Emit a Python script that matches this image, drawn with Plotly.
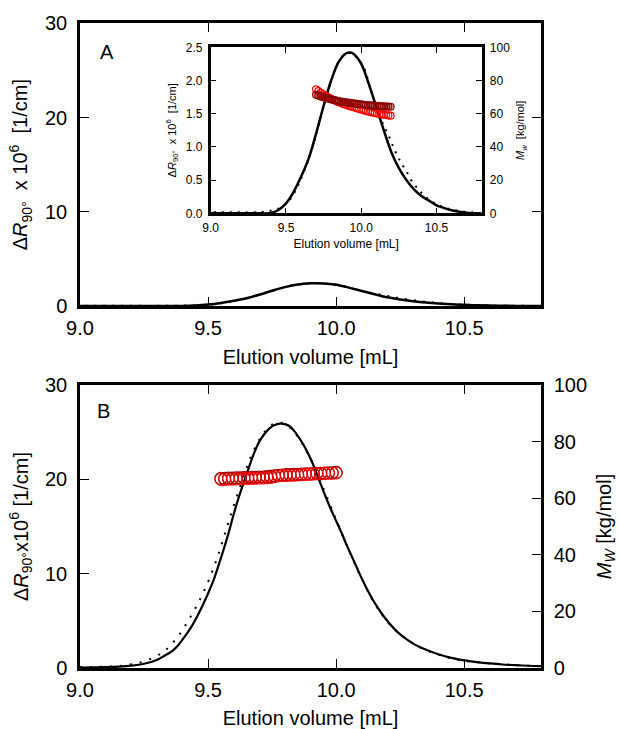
import plotly.graph_objects as go

FONT = "Liberation Sans, Arial, sans-serif"

# ---------------- Panel A (and inset) : light scattering trace ----------------
vol_fit_A = [9.00, 9.30, 9.40, 9.45, 9.50, 9.55, 9.60, 9.65, 9.70, 9.75, 9.80, 9.85,
             9.90, 9.925, 9.95, 10.00, 10.05, 10.10, 10.15, 10.20, 10.25, 10.30, 10.35,
             10.40, 10.45, 10.50, 10.55, 10.60, 10.65, 10.70, 10.75, 10.80]
dR_fit_A = [0.0, 0.0, 0.005, 0.05, 0.15, 0.32, 0.55, 0.82, 1.20, 1.62, 2.00, 2.28,
            2.41, 2.42, 2.40, 2.25, 1.95, 1.60, 1.25, 0.92, 0.68, 0.50, 0.36,
            0.26, 0.19, 0.12, 0.08, 0.045, 0.025, 0.01, 0.0, 0.0]

vol_data_A = [9.02, 9.06, 9.10, 9.14, 9.18, 9.22, 9.26, 9.30, 9.34, 9.38, 9.42, 9.46,
              9.50, 9.54, 9.58, 9.62, 9.66, 9.70, 9.74, 9.78, 9.82, 9.86, 9.90, 9.94,
              9.98, 10.02, 10.06, 10.10, 10.14, 10.18, 10.22, 10.26, 10.30, 10.34,
              10.38, 10.42, 10.46, 10.50, 10.54, 10.58, 10.62, 10.66, 10.70, 10.74, 10.78]
dR_data_A = [0.015, 0.015, 0.015, 0.015, 0.015, 0.015, 0.012, 0.015, 0.02, 0.03, 0.05, 0.08,
             0.14, 0.25, 0.42, 0.63, 0.88, 1.18, 1.52, 1.85, 2.13, 2.32, 2.41, 2.40,
             2.32, 2.18, 1.88, 1.60, 1.37, 1.18, 0.96, 0.78, 0.63, 0.47,
             0.36, 0.26, 0.19, 0.14, 0.10, 0.07, 0.05, 0.035, 0.02, 0.015, 0.01]

# inset molar mass (kg/mol)
vol_mw_A = [9.700, 9.715, 9.730, 9.745, 9.760, 9.775, 9.790, 9.805, 9.820, 9.835,
            9.850, 9.865, 9.880, 9.895, 9.910, 9.925, 9.940, 9.955, 9.970, 9.985,
            10.000, 10.015, 10.030, 10.045, 10.060, 10.075, 10.090, 10.105, 10.120,
            10.135, 10.150, 10.165, 10.180, 10.195]
mw_red_A = [74.7, 73.6, 72.6, 71.7, 70.9, 70.1, 69.4, 68.7, 68.1, 67.5,
            66.9, 66.4, 65.9, 65.4, 64.9, 64.5, 64.1, 63.7, 63.3, 62.9,
            62.5, 62.1, 61.7, 61.3, 61.0, 60.7, 60.4, 60.1, 59.8,
            59.6, 59.4, 59.2, 59.0, 58.8]
mw_dark_A = [71.4, 70.9, 70.4, 70.0, 69.6, 69.2, 68.8, 68.5, 68.2, 67.9,
             67.6, 67.3, 67.1, 66.9, 66.7, 66.5, 66.3, 66.1, 65.9, 65.7,
             65.6, 65.4, 65.2, 65.1, 65.0, 64.9, 64.8, 64.7, 64.6,
             64.5, 64.4, 64.3, 64.3, 64.2]

# ---------------- Panel B ----------------
vol_fit_B = [9.00, 9.10, 9.15, 9.20, 9.25, 9.30, 9.33, 9.36, 9.38, 9.40, 9.42, 9.44,
             9.46, 9.48, 9.50, 9.52, 9.54, 9.56, 9.58, 9.60, 9.62, 9.64, 9.66, 9.68,
             9.70, 9.72, 9.74, 9.76, 9.78, 9.80, 9.82, 9.84, 9.86, 9.88, 9.90, 9.92,
             9.94, 9.96, 9.98, 10.00, 10.02, 10.04, 10.06, 10.08, 10.10, 10.12, 10.14,
             10.16, 10.18, 10.20, 10.24, 10.28, 10.32, 10.36, 10.40, 10.45, 10.50,
             10.55, 10.60, 10.65, 10.70, 10.75, 10.80]
dR_fit_B = [0.05, 0.10, 0.15, 0.25, 0.45, 0.85, 1.3, 1.8, 2.3, 3.0, 3.75, 4.6,
            5.6, 6.7, 7.9, 9.2, 10.8, 12.5, 14.3, 16.3, 18.1, 19.7, 21.3, 22.8,
            24.0, 24.8, 25.4, 25.75, 25.9, 25.85, 25.6, 25.0, 24.2, 23.3, 22.2, 20.9,
            19.5, 18.1, 16.8, 15.6, 14.4, 13.1, 11.9, 10.7, 9.5, 8.4, 7.4,
            6.5, 5.7, 5.0, 3.8, 2.95, 2.3, 1.85, 1.45, 1.07, 0.80,
            0.62, 0.48, 0.37, 0.30, 0.24, 0.20]

vol_data_B = [9.00, 9.05, 9.10, 9.15, 9.20, 9.25, 9.30, 9.33, 9.36, 9.39, 9.42, 9.45,
              9.48, 9.51, 9.54, 9.57, 9.60, 9.63, 9.66, 9.69, 9.72, 9.75, 9.78, 9.81,
              9.84, 9.87, 9.90, 9.93, 9.96, 9.99, 10.02, 10.05, 10.08, 10.11, 10.14,
              10.17, 10.20, 10.25, 10.30, 10.35, 10.40, 10.45, 10.50, 10.55, 10.60,
              10.65, 10.70, 10.75, 10.80]
dR_data_B = [0.1, 0.1, 0.15, 0.2, 0.4, 0.7, 1.3, 1.8, 2.6, 3.6, 4.9, 6.3,
             7.9, 9.8, 12.0, 14.6, 17.2, 19.6, 21.9, 23.7, 25.0, 25.8, 26.0, 25.7,
             24.9, 23.7, 22.2, 20.4, 18.4, 16.4, 14.4, 12.5, 10.6, 8.9, 7.3,
             6.0, 4.9, 3.6, 2.6, 1.9, 1.4, 1.0, 0.75, 0.6, 0.47,
             0.38, 0.30, 0.25, 0.20]

vol_mw_B = [9.550, 9.565, 9.580, 9.595, 9.610, 9.625, 9.640, 9.655, 9.670, 9.685,
            9.700, 9.715, 9.730, 9.745, 9.760, 9.775, 9.790, 9.805, 9.820, 9.835,
            9.850, 9.865, 9.880, 9.895, 9.910, 9.925, 9.940, 9.955, 9.970, 9.985, 10.000]
mw_red_B = [66.6, 66.6, 66.7, 66.7, 66.8, 66.8, 66.9, 66.9, 67.0, 67.0,
            67.1, 67.1, 67.2, 67.3, 67.6, 67.9, 68.0, 68.0, 68.1, 68.1,
            68.2, 68.3, 68.4, 68.4, 68.5, 68.6, 68.6, 68.7, 68.8, 68.8, 68.9]
mw_dark_B = [67.0, 67.0, 67.1, 67.1, 67.2, 67.2, 67.3, 67.3, 67.4, 67.4,
             67.5, 67.5, 67.6, 67.7, 67.9, 68.1, 68.2, 68.3, 68.3, 68.4,
             68.4, 68.5, 68.6, 68.6, 68.7, 68.8, 68.8, 68.9, 69.0, 69.0, 69.1]

W, H = 618, 729


def px(x):
    return x / W


def py(y):
    return 1 - y / H


fig = go.Figure()

# Panel A main
fig.add_trace(go.Scatter(x=vol_data_A, y=dR_data_A, mode="lines", xaxis="x", yaxis="y",
                         line=dict(color="black", width=2, dash="2px,7px", shape="spline")))
fig.add_trace(go.Scatter(x=vol_fit_A, y=dR_fit_A, mode="lines", xaxis="x", yaxis="y",
                         line=dict(color="black", width=2.5, shape="spline")))
# Inset
fig.add_trace(go.Scatter(x=vol_data_A, y=dR_data_A, mode="lines", xaxis="x2", yaxis="y2",
                         line=dict(color="black", width=2, dash="2px,6px", shape="spline")))
fig.add_trace(go.Scatter(x=vol_fit_A, y=dR_fit_A, mode="lines", xaxis="x2", yaxis="y2",
                         line=dict(color="black", width=2.5, shape="spline")))
fig.add_trace(go.Scatter(x=vol_mw_A, y=mw_red_A, mode="markers", xaxis="x2", yaxis="y3",
                         marker=dict(symbol="circle-open", size=7, color="#ff0000",
                                     line=dict(width=1.2, color="#ff0000"))))
fig.add_trace(go.Scatter(x=vol_mw_A, y=mw_dark_A, mode="markers", xaxis="x2", yaxis="y3",
                         marker=dict(symbol="circle", size=7, color="rgba(139,0,0,0.25)",
                                     line=dict(width=1.2, color="#8b0000"))))
# Panel B
fig.add_trace(go.Scatter(x=vol_data_B, y=dR_data_B, mode="lines", xaxis="x3", yaxis="y4",
                         line=dict(color="black", width=2, dash="2px,8px", shape="spline")))
fig.add_trace(go.Scatter(x=vol_fit_B, y=dR_fit_B, mode="lines", xaxis="x3", yaxis="y4",
                         line=dict(color="black", width=2.2, shape="spline")))
fig.add_trace(go.Scatter(x=vol_mw_B, y=mw_dark_B, mode="markers", xaxis="x3", yaxis="y5",
                         marker=dict(symbol="circle-open", size=12, color="#8b0000",
                                     line=dict(width=1.2, color="#8b0000"))))
fig.add_trace(go.Scatter(x=vol_mw_B, y=mw_red_B, mode="markers", xaxis="x3", yaxis="y5",
                         marker=dict(symbol="circle-open", size=12, color="#ff0000",
                                     line=dict(width=1.0, color="#ff0000"))))


def ax(size, ticklen, lw=2.5, **kw):
    d = dict(showline=True, linecolor="black", linewidth=lw, ticks="inside",
             ticklen=ticklen, tickwidth=1.3, tickcolor="black", showgrid=False,
             zeroline=False, automargin=False,
             tickfont=dict(family=FONT, size=size, color="black"))
    d.update(kw)
    return d


mainA_x = [px(80), px(541)]
mainA_y = [py(306), py(23.3)]
inset_x = [px(210.7), px(481.7)]
inset_y = [py(213.3), py(47.3)]
mainB_y = [py(668), py(385)]

tfont = dict(family=FONT, size=20, color="black")
sfont = dict(family=FONT, size=12, color="black")
sp = "\u00a0"

fig.update_layout(
    width=W, height=H, margin=dict(l=0, r=0, t=0, b=0),
    paper_bgcolor="white", plot_bgcolor="white", showlegend=False,
    font=dict(family=FONT, color="black"),
    xaxis=ax(20, 9, domain=mainA_x, anchor="y", range=[9, 10.8], tick0=9, dtick=0.5,
             tickformat=".1f", mirror="ticks", ticklabelstandoff=2,
             title=dict(text="Elution volume [mL]", font=tfont, standoff=13)),
    yaxis=ax(20, 9, domain=mainA_y, anchor="x", range=[0, 30], tick0=0, dtick=10,
             mirror="ticks", ticklabelstandoff=6,
             title=dict(text=f"Δ<i>R</i><sub>90°</sub>{sp}{sp}x 10<sup>6</sup>{sp}{sp}[1/cm]",
                        font=tfont, standoff=12)),
    xaxis2=ax(12, 6, domain=inset_x, anchor="y2", range=[9, 10.8], tick0=9, dtick=0.5,
              tickformat=".1f", mirror="ticks", ticklabelstandoff=2,
              title=dict(text="Elution volume [mL]", font=sfont, standoff=6)),
    yaxis2=ax(12, 6, domain=inset_y, anchor="x2", range=[0, 2.5], tick0=0, dtick=0.5,
              tickformat=".1f", mirror=True, ticklabelstandoff=3,
              title=dict(text=f"Δ<i>R</i><sub>90°</sub>{sp}{sp}x 10<sup>6</sup>{sp}{sp}[1/cm]",
                         font=dict(family=FONT, size=11, color="black"), standoff=8)),
    yaxis3=ax(12, 6, overlaying="y2", anchor="x2", side="right", range=[0, 100],
              tick0=0, dtick=20, ticklabelstandoff=3,
              title=dict(text=f"<i>M</i><sub><i>w</i></sub>{sp}{sp}[kg/mol]",
                         font=dict(family=FONT, size=11, color="black"), standoff=8)),
    xaxis3=ax(20, 9, domain=mainA_x, anchor="y4", range=[9, 10.8], tick0=9, dtick=0.5,
              tickformat=".1f", mirror="ticks", ticklabelstandoff=2,
              title=dict(text="Elution volume [mL]", font=tfont, standoff=14)),
    yaxis4=ax(20, 9, domain=mainB_y, anchor="x3", range=[0, 30], tick0=0, dtick=10,
              mirror=True, ticklabelstandoff=6,
              title=dict(text="Δ<i>R</i><sub>90°</sub>x10<sup>6</sup> [1/cm]",
                         font=tfont, standoff=12)),
    yaxis5=ax(20, 9, overlaying="y4", anchor="x3", side="right", range=[0, 100],
              tick0=0, dtick=20, ticklabelstandoff=6,
              title=dict(text="<i>M</i><sub><i>W</i></sub> [kg/mol]", font=tfont, standoff=14)),
    annotations=[
        dict(text="A", x=px(107), y=py(52), xref="paper", yref="paper", showarrow=False,
             font=tfont, xanchor="center", yanchor="middle"),
        dict(text="B", x=px(103), y=py(411), xref="paper", yref="paper", showarrow=False,
             font=tfont, xanchor="center", yanchor="middle"),
    ],
)

fig.write_html("out.html", config={"displayModeBar": False},
               post_script="document.body.style.margin='0';document.body.style.overflow='hidden';")
